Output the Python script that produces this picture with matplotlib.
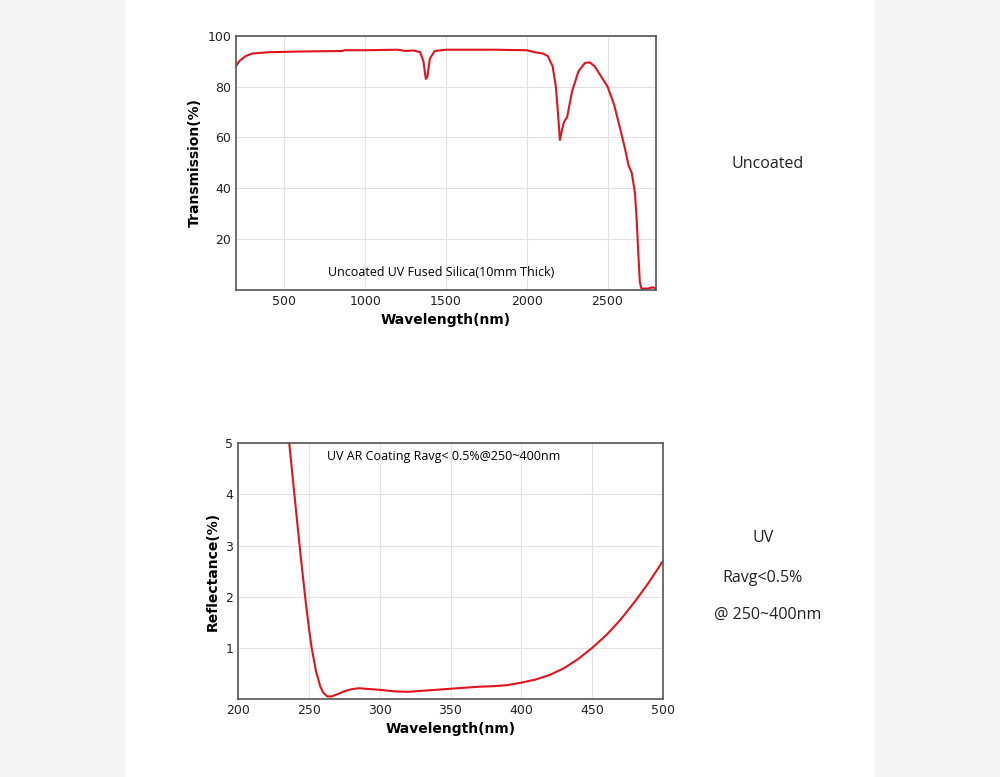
import matplotlib
matplotlib.use('Agg')
import matplotlib.pyplot as plt
from matplotlib.patches import Rectangle

# --- transmission of uncoated UV fused silica ---
wl_t = [200, 220, 260, 300, 400, 600, 860, 870, 1000, 1200, 1250, 1300, 1340, 1360,
        1375, 1385, 1400, 1430, 1500, 1800, 2000, 2050, 2100, 2130, 2160, 2180, 2195,
        2205, 2215, 2230, 2250, 2280, 2320, 2360, 2390, 2420, 2470, 2500, 2540, 2580,
        2610, 2630, 2650, 2670, 2680, 2690, 2700, 2710, 2750, 2780, 2800]
trans = [88, 90, 92, 93, 93.5, 93.8, 94, 94.3, 94.3, 94.5, 94, 94.2, 93.5, 90,
         83, 84, 91, 94, 94.5, 94.5, 94.3, 93.5, 93, 92, 88, 80, 68,
         59, 62, 66, 68, 78, 86, 89.3, 89.5, 88, 83, 80, 73, 63,
         55, 49, 46, 38, 28, 15, 3, 0.5, 0.5, 1, 0.5]

# --- reflectance of UV AR coating ---
wl_r = [236, 238, 240, 242, 245, 248, 250, 252, 255, 258, 260, 263, 266, 270, 275,
        280, 285, 290, 300, 310, 320, 330, 340, 350, 360, 370, 380, 390, 400, 410,
        420, 430, 440, 450, 460, 470, 480, 490, 500]
refl = [5.05, 4.5, 3.95, 3.4, 2.6, 1.85, 1.4, 1.0, 0.55, 0.25, 0.13, 0.05, 0.05, 0.09, 0.15,
        0.19, 0.21, 0.2, 0.18, 0.15, 0.14, 0.16, 0.18, 0.2, 0.22, 0.24, 0.25, 0.27, 0.32, 0.38,
        0.47, 0.6, 0.78, 1.0, 1.25, 1.55, 1.9, 2.28, 2.7]

red = '#e0141e'
fig = plt.figure(figsize=(10, 7.77), dpi=100, facecolor='#f4f4f4')
fig.patches.append(Rectangle((0.125, 0), 0.75, 1, transform=fig.transFigure,
                             facecolor='white', edgecolor='none', zorder=-1))


def style(ax):
    ax.grid(True, color='#e2e2e2', lw=0.8)
    ax.set_axisbelow(True)
    ax.tick_params(length=0, labelsize=9, colors='#222222')
    for s in ax.spines.values():
        s.set_color('#555555')
        s.set_linewidth(1.2)
    ax.set_xlabel('Wavelength(nm)', fontsize=10, fontweight='bold')


ax1 = fig.add_axes([0.236, 0.627, 0.42, 0.327])
ax1.plot(wl_t, trans, color=red, lw=1.5)
ax1.set_xlim(200, 2800)
ax1.set_ylim(0, 100)
ax1.set_xticks([500, 1000, 1500, 2000, 2500])
ax1.set_yticks([20, 40, 60, 80, 100])
ax1.set_ylabel('Transmission(%)', fontsize=10, fontweight='bold')
style(ax1)
ax1.text(1469, 7, 'Uncoated UV Fused Silica(10mm Thick)', ha='center', va='center',
         fontsize=9, family='Open Sans')

ax2 = fig.add_axes([0.238, 0.1004, 0.425, 0.329])
ax2.plot(wl_r, refl, color=red, lw=1.5)
ax2.set_xlim(200, 500)
ax2.set_ylim(0, 5)
ax2.set_xticks([200, 250, 300, 350, 400, 450, 500])
ax2.set_yticks([1, 2, 3, 4, 5])
ax2.set_ylabel('Reflectance(%)', fontsize=10, fontweight='bold')
style(ax2)
ax2.text(263, 4.75, 'UV AR Coating Ravg< 0.5%@250~400nm', ha='left', va='center',
         fontsize=9, family='Open Sans')

side = dict(ha='center', va='center', fontsize=11.5, color='#222222', family='Open Sans')
fig.text(0.768, 1 - 164 / 777, 'Uncoated', **side)
fig.text(0.763, 1 - 538 / 777, 'UV', **side)
fig.text(0.763, 1 - 578 / 777, 'Ravg<0.5%', **side)
fig.text(0.768, 1 - 615 / 777, '@ 250~400nm', **side)

fig.savefig('out.png', dpi=100, facecolor=fig.get_facecolor())
